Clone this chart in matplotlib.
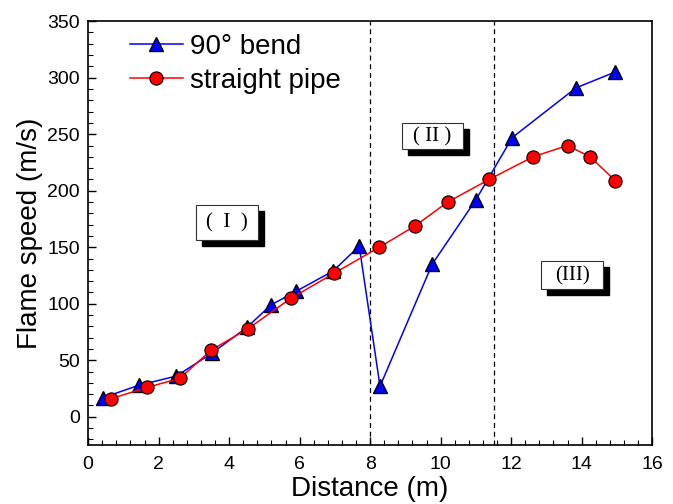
import matplotlib
matplotlib.use("Agg")
import matplotlib.pyplot as plt
from matplotlib.patches import Rectangle
from matplotlib.transforms import ScaledTranslation
from matplotlib.ticker import MultipleLocator

plt.rcParams["font.family"] = ["Liberation Sans", "DejaVu Sans"]

# 90 degree bend
bend_x = [0.43, 1.45, 2.5, 3.5, 4.5, 5.19, 5.9, 6.95, 7.69, 8.28, 9.76, 11.0, 12.03, 13.84, 14.95]
bend_v = [17, 28, 36, 56, 79, 99, 111, 129, 151, 27, 135, 192, 247, 291, 305]

# straight pipe
pipe_x = [0.65, 1.67, 2.6, 3.49, 4.54, 5.76, 6.98, 8.26, 9.28, 10.2, 11.38, 12.62, 13.6, 14.24, 14.95]
pipe_v = [16, 26, 34, 59, 78, 105, 127, 150, 169, 190, 210, 230, 240, 230, 209]

# region borders and region labels
borders = [8.0, 11.5]
region_text = ["(  I  )", "( II )", "(III)"]
region_xy = [(3.94, 172), (9.76, 248), (13.74, 125)]
region_size = [(0.62, 0.35), (0.61, 0.26), (0.62, 0.28)]  # inches


def region_box(fig, ax, text, xy, size):
    w, h = size
    anchor = ScaledTranslation(xy[0], xy[1], ax.transData)
    shadow = Rectangle((-w / 2 + 0.06, -h / 2 - 0.06), w, h, facecolor="black",
                       edgecolor="black", transform=fig.dpi_scale_trans + anchor, zorder=5)
    box = Rectangle((-w / 2, -h / 2), w, h, facecolor="white", edgecolor="#333333",
                    linewidth=0.8, transform=fig.dpi_scale_trans + anchor, zorder=6)
    ax.add_patch(shadow)
    ax.add_patch(box)
    ax.text(xy[0], xy[1], text, ha="center", va="center", fontsize=15,
            family=["Liberation Serif", "DejaVu Serif"], zorder=7)


def main():
    fig = plt.figure(figsize=(6.73, 5.04), dpi=100)
    ax = fig.add_axes([0.131, 0.117, 0.838, 0.841])

    ax.plot(bend_x, bend_v, color="blue", lw=1.1, marker="^", markersize=10.5,
            markerfacecolor="blue", markeredgecolor="black", markeredgewidth=1.0,
            label="90° bend", zorder=3)
    ax.plot(pipe_x, pipe_v, color="red", lw=1.1, marker="o", markersize=9.5,
            markerfacecolor="red", markeredgecolor="black", markeredgewidth=0.8,
            label="straight pipe", zorder=4)

    for b in borders:
        ax.axvline(b, color="black", lw=0.9, ls=(0, (4, 3)), zorder=1)

    for text, xy, size in zip(region_text, region_xy, region_size):
        region_box(fig, ax, text, xy, size)

    ax.set_xlim(0, 16)
    ax.set_ylim(-25, 350)
    ax.xaxis.set_major_locator(MultipleLocator(2))
    ax.xaxis.set_minor_locator(MultipleLocator(0.4))
    ax.yaxis.set_major_locator(MultipleLocator(50))
    ax.yaxis.set_minor_locator(MultipleLocator(10))
    ax.tick_params(which="both", direction="in", labelsize=14)
    ax.tick_params(which="major", length=6, width=1.0)
    ax.tick_params(which="minor", length=3.5, width=0.8)
    ax.tick_params(axis="x", which="major", pad=8)
    ax.tick_params(axis="y", which="major", pad=6)
    for sp in ax.spines.values():
        sp.set_linewidth(1.2)

    ax.set_xlabel("Distance (m)", fontsize=20, labelpad=2)
    ax.set_ylabel("Flame speed (m/s)", fontsize=20, labelpad=3)

    ax.legend(loc="upper left", bbox_to_anchor=(0.074, 0.97), frameon=False,
              fontsize=20, handlelength=1.9, handletextpad=0.25, labelspacing=0.28,
              borderpad=0, borderaxespad=0)

    fig.savefig("out.png", dpi=100)


if __name__ == "__main__":
    main()
